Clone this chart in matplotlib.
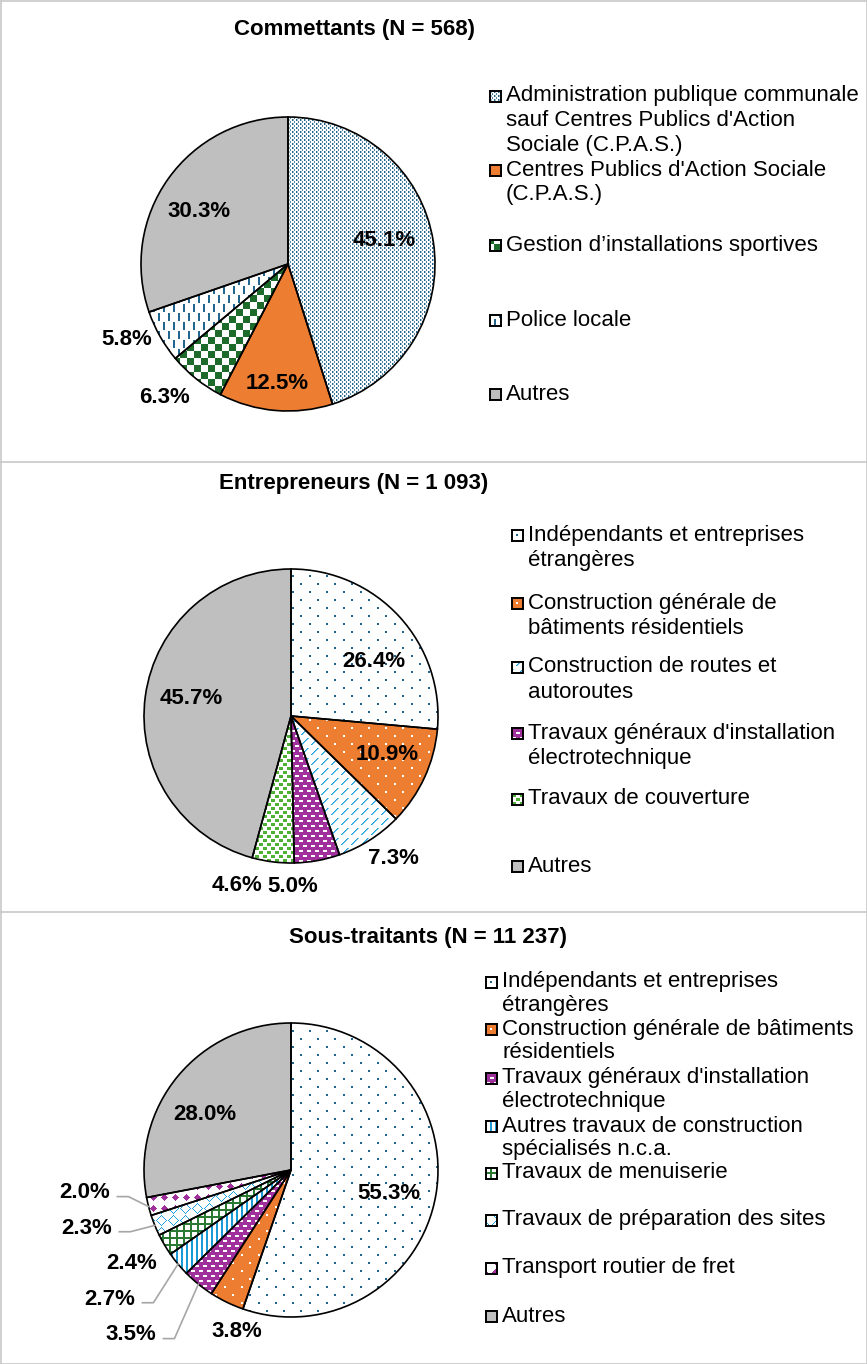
import numpy as np
import matplotlib
matplotlib.use("Agg")
import matplotlib.pyplot as plt
from matplotlib.lines import Line2D

plt.rcParams['font.family'] = ['Liberation Sans', 'DejaVu Sans']

W, H = 867, 1364
R = 147  # pie radius in pixels

# ---- data ----
comm_title = "Commettants (N = 568)"
comm_labels = ["Administration publique communale\nsauf Centres Publics d'Action\nSociale (C.P.A.S.)",
               "Centres Publics d'Action Sociale\n(C.P.A.S.)",
               "Gestion d\u2019installations sportives",
               "Police locale",
               "Autres"]
comm_values = [45.1, 12.5, 6.3, 5.8, 30.3]

entr_title = "Entrepreneurs (N = 1 093)"
entr_labels = ["Indépendants et entreprises\nétrangères",
               "Construction générale de\nbâtiments résidentiels",
               "Construction de routes et\nautoroutes",
               "Travaux généraux d'installation\nélectrotechnique",
               "Travaux de couverture",
               "Autres"]
entr_values = [26.4, 10.9, 7.3, 5.0, 4.6, 45.7]

sous_title = "Sous-traitants (N = 11 237)"
sous_labels = ["Indépendants et entreprises\nétrangères",
               "Construction générale de bâtiments\nrésidentiels",
               "Travaux généraux d'installation\nélectrotechnique",
               "Autres travaux de construction\nspécialisés n.c.a.",
               "Travaux de menuiserie",
               "Travaux de préparation des sites",
               "Transport routier de fret",
               "Autres"]
sous_values = [55.3, 3.8, 3.5, 2.7, 2.4, 2.3, 2.0, 28.0]

# ---- styles (textures) ----
BLUE = '#22668f'
ORANGE = '#ed7d31'
GRAY = '#bfbfbf'
LBLUE = '#1ca0dd'
PURPLE = '#a0309b'


def make_tile(kind):
    if kind == 'fine':
        t = np.zeros((4, 4)); t[0:2, 0] = 1; t[0:2, 1] = 0.45; t[2:4, 2] = 0.8
    elif kind == 'checker':
        t = np.zeros((14, 14)); t[:7, :7] = 1; t[7:, 7:] = 1
    elif kind == 'vdash':
        t = np.zeros((18, 10)); t[0:8, 0:2] = 1; t[9:17, 5:7] = 1
    elif kind == 'dots':
        t = np.zeros((16, 17)); t[0:2, 0:2] = 1; t[8:10, 8:10] = 1
    elif kind == 'diag':
        t = np.zeros((10, 10))
        for k in range(7):
            t[9 - k, k] = 1
            t[9 - k, (k + 1) % 10] = 0.6
    elif kind == 'hdash':
        t = np.zeros((10, 8)); t[0:2, 0:4] = 1; t[5:7, 4:8] = 1
    elif kind == 'squares':
        t = np.zeros((8, 8)); t[0:3, 0:4] = 1; t[4:7, 4:8] = 1
    elif kind == 'vstripe':
        t = np.zeros((1, 5)); t[:, 0:2] = 1
    elif kind == 'grid':
        t = np.zeros((7, 7)); t[0:2, :] = 1; t[:, 0:2] = 1
    elif kind == 'wave':
        yy, xx = np.mgrid[0:12, 0:12]
        t = (np.abs(np.abs(xx - 6) + np.abs(yy - 6) - 5) < 0.5) * 1.0
    elif kind == 'diamond':
        yy, xx = np.mgrid[0:11, 0:11]
        t = (np.abs(xx - 5) + np.abs(yy - 5) <= 3) * 1.0
    else:
        t = np.zeros((1, 1))
    return t


# name -> (background, pattern colour, tile kind)
TEX = {
    'admin': ('white', BLUE, 'fine'),
    'orange': (ORANGE, ORANGE, 'solid'),
    'checker': ('white', '#1d6b2b', 'checker'),
    'police': ('white', BLUE, 'vdash'),
    'gray': (GRAY, GRAY, 'solid'),
    'dots': ('white', BLUE, 'dots'),
    'odots': (ORANGE, 'white', 'dots'),
    'diag': ('white', LBLUE, 'diag'),
    'purple': (PURPLE, 'white', 'hdash'),
    'green': ('white', '#4fb136', 'squares'),
    'stripes': ('white', '#1a9bd7', 'vstripe'),
    'grid': ('white', '#2a7a34', 'grid'),
    'wave': ('white', LBLUE, 'wave'),
    'diamond': ('white', PURPLE, 'diamond'),
}


def texture(name, h, w, shift=0):
    bg, fg, kind = TEX[name]
    tile = make_tile(kind)
    reps = (h // tile.shape[0] + 2, w // tile.shape[1] + 2)
    a = np.roll(np.tile(tile, reps), (shift, shift), axis=(0, 1))[:h, :w]
    bg = np.array(matplotlib.colors.to_rgba(bg))
    fg = np.array(matplotlib.colors.to_rgba(fg))
    return (1 - a)[..., None] * bg + a[..., None] * fg


def px(x, y):
    return x / W, 1 - y / H


LIM = 1.5


def draw_pie(fig, cx, cy, values, styles, label_pos, leaders=()):
    size = 2 * LIM * R
    ax = fig.add_axes([(cx - size / 2) / W, 1 - (cy + size / 2) / H, size / W, size / H])
    n = len(values)
    wedges, _ = ax.pie(values, startangle=90, counterclock=False, radius=1,
                       colors=[TEX[s][0] for s in styles],
                       wedgeprops=dict(linewidth=0, zorder=1))
    npx = int(round(size))
    for w, s in zip(wedges, styles):
        if TEX[s][2] == 'solid':
            continue
        im = ax.imshow(texture(s, npx, npx), extent=(-LIM, LIM, -LIM, LIM),
                       interpolation='nearest', zorder=1.5)
        im.set_clip_path(w)
    ax.pie(values, startangle=90, counterclock=False, radius=1,
           colors=['none'] * n,
           wedgeprops=dict(edgecolor='black', linewidth=1.2, zorder=2))
    for v, (lx, ly) in zip(values, label_pos):
        ax.text(lx, ly, f"{v:.1f}%", ha='center', va='center',
                fontsize=16, fontweight='bold', zorder=3)
    # leader lines for the small outside labels
    for i in leaders:
        w = wedges[i]
        mid = np.deg2rad((w.theta1 + w.theta2) / 2)
        lx, ly = label_pos[i]
        ax.plot([lx + 0.22, lx + 0.295, np.cos(mid)], [ly - 0.025, ly - 0.025, np.sin(mid)],
                color='#a6a6a6', lw=1.2, zorder=3, clip_on=False)
    ax.set_xlim(-LIM, LIM)
    ax.set_ylim(-LIM, LIM)
    ax.set_aspect('equal')
    ax.axis('off')
    return ax


def draw_legend(fig, labels, styles, mx, tx, ys, step):
    for lab, s, y in zip(labels, styles, ys):
        m = fig.add_axes([mx / W, 1 - (y + 6) / H, 11 / W, 11 / H])
        m.imshow(texture(s, 11, 11, shift=4), interpolation='nearest', aspect='auto')
        m.set_xticks([])
        m.set_yticks([])
        for sp in m.spines.values():
            sp.set_linewidth(1.4)
            sp.set_color('black')
        for k, line in enumerate(lab.split('\n')):
            fig.text(*px(tx, y + k * step), line, ha='left', va='center', fontsize=16)


fig = plt.figure(figsize=(W / 100, H / 100), dpi=100)

# panel frames
frame = '#c8c8c8'
for (x0, y0, x1, y1) in [(0.5, 0.5, W - 0.5, 0.5), (0.5, H - 0.5, W - 0.5, H - 0.5),
                         (0.5, 0.5, 0.5, H - 0.5), (W - 0.5, 0.5, W - 0.5, H - 0.5),
                         (0, 462, W, 462), (0, 912, W, 912)]:
    fig.add_artist(Line2D([x0 / W, x1 / W], [1 - y0 / H, 1 - y1 / H], color=frame, lw=1.2))

# Commettants
comm_styles = ['admin', 'orange', 'checker', 'police', 'gray']
comm_lpos = [(0.653, 0.163), (-0.075, -0.810), (-0.843, -0.905), (-1.095, -0.517), (-0.605, 0.354)]
fig.text(*px(355, 30), comm_title, ha='center', va='center', fontsize=16, fontweight='bold')
draw_pie(fig, 288, 264, comm_values, comm_styles, comm_lpos)
draw_legend(fig, comm_labels, comm_styles, 490, 506, [96, 170, 245, 320, 394], 24.5)

# Entrepreneurs
entr_styles = ['dots', 'odots', 'diag', 'purple', 'green', 'gray']
entr_lpos = [(0.565, 0.374), (0.653, -0.259), (0.700, -0.966), (0.014, -1.163),
             (-0.367, -1.150), (-0.680, 0.122)]
fig.text(*px(354, 483), entr_title, ha='center', va='center', fontsize=16, fontweight='bold')
draw_pie(fig, 291, 716, entr_values, entr_styles, entr_lpos)
draw_legend(fig, entr_labels, entr_styles, 512, 528, [535, 603, 667, 733, 799, 866], 25.5)

# Sous-traitants
sous_styles = ['dots', 'odots', 'purple', 'stripes', 'grid', 'wave', 'diamond', 'gray']
sous_lpos = [(0.667, -0.160), (-0.367, -1.102), (-1.088, -1.122), (-1.231, -0.878),
             (-1.082, -0.633), (-1.388, -0.395), (-1.401, -0.156), (-0.585, 0.375)]
fig.text(*px(428, 937), sous_title, ha='center', va='center', fontsize=16, fontweight='bold')
draw_pie(fig, 291, 1170, sous_values, sous_styles, sous_lpos, leaders=[2, 3, 5, 6])
draw_legend(fig, sous_labels, sous_styles, 486, 502,
            [982, 1029, 1078, 1126, 1173, 1220, 1268, 1316], 24)

fig.savefig("out.png", dpi=100)
